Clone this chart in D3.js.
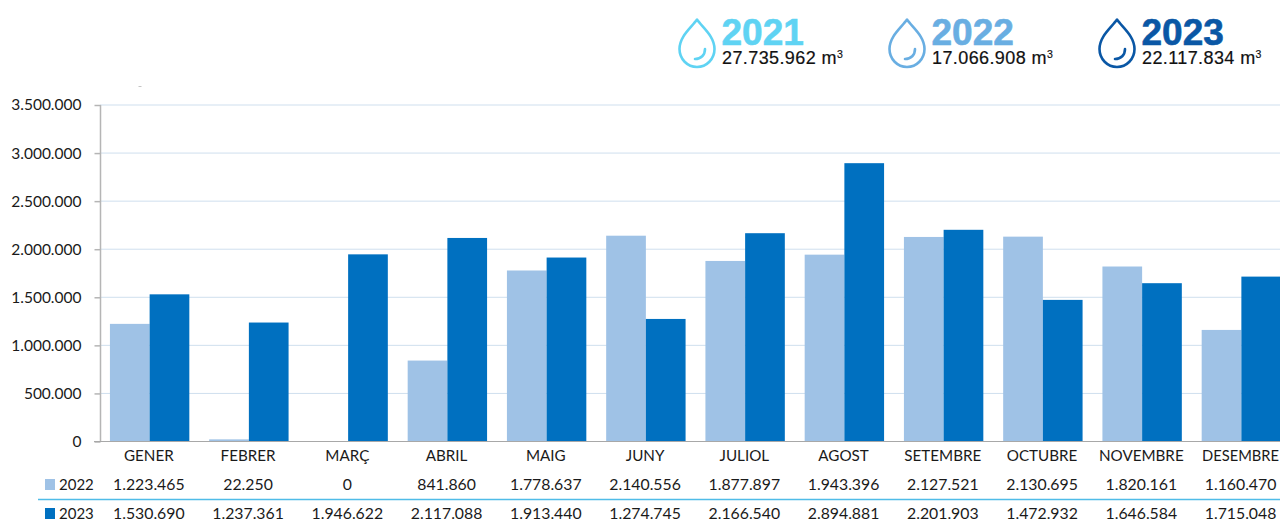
<!DOCTYPE html>
<html lang="en">
<head>
    <meta charset="UTF-8">
    <title>Consum d'aigua</title>
    <script src="https://d3js.org/d3.v7.min.js"></script>
    <style>
        html, body { margin: 0; padding: 0; background: #fff; overflow: hidden; }
        svg { display: block; }
        text { font-family: Lato, "Open Sans", sans-serif; fill: #1a1a1a; }
        .head text { font-family: "Liberation Sans", Arial, sans-serif; }
        .axis text { font-size: 15.5px; }
        .month { font-size: 15.2px; }
        .month:last-child { font-size: 14.7px; }
        .cell { font-size: 15.8px; }
        .rowname { font-size: 15px; }
    </style>
</head>
<body>
    <svg id="chart" width="1280" height="522"></svg>

    <script>
        var months = ["GENER", "FEBRER", "MARÇ", "ABRIL", "MAIG", "JUNY", "JULIOL", "AGOST", "SETEMBRE", "OCTUBRE", "NOVEMBRE", "DESEMBRE"];
        var values2022 = [1223465, 22250, 0, 841860, 1778637, 2140556, 1877897, 1943396, 2127521, 2130695, 1820161, 1160470];
        var values2023 = [1530690, 1237361, 1946622, 2117088, 1913440, 1274745, 2166540, 2894881, 2201903, 1472932, 1646584, 1715048];
        var yTicks = [0, 500000, 1000000, 1500000, 2000000, 2500000, 3000000, 3500000];
        var headYears = ["2021", "2022", "2023"];
        var headTotals = ["27.735.962 m", "17.066.908 m", "22.117.834 m"];
        var headColors = ["#5fd3f3", "#69aee2", "#0a57a5"];
        var rowNames = ["2022", "2023"];
        var rowColors = ["#9fc2e6", "#0070c0"];

        var svg = d3.select("#chart");
        var fmt = d3.formatLocale({ decimal: ",", thousands: ".", grouping: [3], currency: ["", ""] }).format(",d");

        var x = d3.scaleBand().domain(months).range([100, 1291]).paddingInner(0.2).paddingOuter(0.1);
        var x2 = d3.scaleBand().domain([0, 1]).range([0, x.bandwidth()]);
        var y = d3.scaleLinear().domain([0, 3500000]).range([441.5, 105]);

        // grid
        svg.append("g").selectAll("line").data(yTicks.slice(1)).enter().append("line")
            .attr("x1", 100).attr("x2", 1280)
            .attr("y1", function(d) { return y(d); }).attr("y2", function(d) { return y(d); })
            .attr("stroke", "#cfdfee").attr("stroke-width", 1);

        // bars
        [values2022, values2023].forEach(function(vals, s) {
            svg.append("g").selectAll("rect").data(vals).enter().append("rect")
                .attr("x", function(d, i) { return x(months[i]) + x2(s); })
                .attr("y", function(d) { return y(d); })
                .attr("width", x2.bandwidth())
                .attr("height", function(d) { return y(0) - y(d); })
                .attr("fill", rowColors[s]);
        });

        // y axis
        var yAxis = svg.append("g").attr("class", "axis").attr("transform", "translate(100.5,0)")
            .call(d3.axisLeft(y).tickValues(yTicks).tickFormat(fmt).tickSize(6).tickPadding(13));
        yAxis.selectAll("line,path").attr("stroke", "#b5b5b5").attr("stroke-width", 1.5);
        yAxis.select(".domain").attr("d", "M0," + y(3500000) + "V" + y(0));
        yAxis.selectAll("text").attr("fill", "#1a1a1a");

        // baseline
        svg.append("line").attr("x1", 94).attr("x2", 1280).attr("y1", y(0)).attr("y2", y(0))
            .attr("stroke", "#a8a8a8").attr("stroke-width", 1.2);

        // month labels
        svg.append("g").selectAll("text").data(months).enter().append("text")
            .attr("class", "month")
            .attr("x", function(d) { return x(d) + x.bandwidth() / 2 - 0.8; })
            .attr("y", 461)
            .attr("text-anchor", "middle")
            .text(function(d) { return d; });

        // table under the chart
        var rowY = [490, 519];
        [values2022, values2023].forEach(function(vals, s) {
            svg.append("rect").attr("x", 45).attr("y", rowY[s] - 11).attr("width", 10).attr("height", 11).attr("fill", rowColors[s]);
            svg.append("text").attr("class", "rowname").attr("x", 59).attr("y", rowY[s]).text(rowNames[s]);
            svg.append("g").selectAll("text").data(vals).enter().append("text")
                .attr("class", "cell")
                .attr("x", function(d, i) { return x(months[i]) + x.bandwidth() / 2 - 0.8; })
                .attr("y", rowY[s])
                .attr("text-anchor", "middle")
                .text(function(d) { return fmt(d); });
        });
        svg.append("line").attr("x1", 38).attr("x2", 1280).attr("y1", 499.5).attr("y2", 499.5)
            .attr("stroke", "#4fbce8").attr("stroke-width", 1.3);

        // small stray mark above the plot
        svg.append("line").attr("x1", 138.5).attr("x2", 141.5).attr("y1", 86.5).attr("y2", 86.5).attr("stroke", "#c4c4c4");

        // header with the drops
        var head = svg.append("g").attr("class", "head");
        var headX = [678, 888, 1098];
        headYears.forEach(function(yr, i) {
            var g = head.append("g").attr("transform", "translate(" + headX[i] + ",0)");
            g.append("path")
                .attr("d", "M19,19.5 C14,27 1.5,36 1.5,49 A17.5,18 0 0 0 36.5,49 C36.5,36 24,27 19,19.5 Z")
                .attr("fill", "none").attr("stroke", headColors[i]).attr("stroke-width", 2.6).attr("stroke-linejoin", "round");
            g.append("path")
                .attr("d", "M17,59 C23,59 27,55 27,49")
                .attr("fill", "none").attr("stroke", headColors[i]).attr("stroke-width", 2.6).attr("stroke-linecap", "round");
            g.append("text").attr("x", 43.5).attr("y", 45)
                .attr("font-size", 37).attr("font-weight", 700)
                .style("fill", headColors[i]).attr("stroke", headColors[i]).attr("stroke-width", 0.6)
                .text(yr);
            var total = g.append("text").attr("x", 44).attr("y", 64)
                .attr("font-size", 18).attr("letter-spacing", 0.4)
                .style("fill", "#111").attr("stroke", "#111").attr("stroke-width", 0.2)
                .text(headTotals[i]);
            total.append("tspan").attr("font-size", 10.5).attr("dy", -6.5).text("3");
        });
    </script>
</body>
</html>
